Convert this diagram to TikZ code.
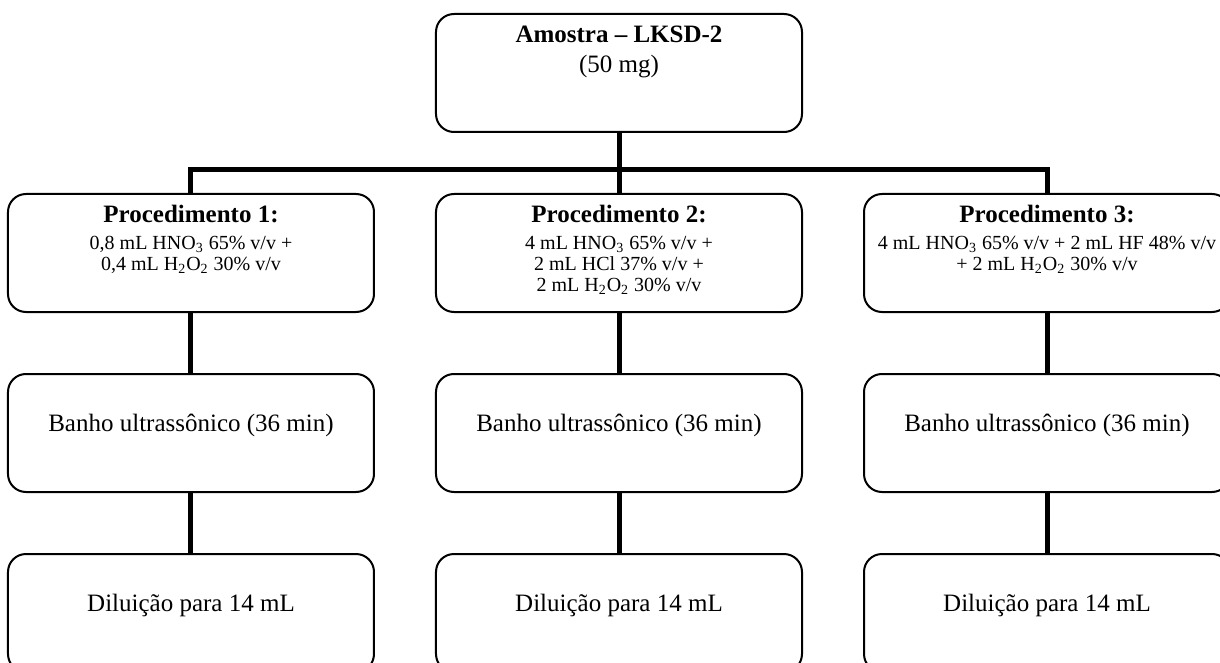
\documentclass[tikz,border=0pt]{standalone}
\usepackage{fontspec}
\setmainfont{Liberation Serif}
\usepackage{tikz}
\usetikzlibrary{positioning}

% texto das caixas: alinhado em cima, centrado
\newcommand{\caixa}[1]{\parbox[t]{175pt}{\centering #1}}
\newcommand{\reag}{\fontsize{10}{10.5}\selectfont}

\begin{document}
\begin{tikzpicture}[node distance=30pt and 30pt,
    etapa/.style={rectangle, draw, line width=1pt, rounded corners=9pt, inner sep=4pt,
        minimum width=183pt, minimum height=59pt, text height=10.5pt, text depth=40.5pt,
        font=\fontsize{12.5}{15}\selectfont},
    ligacao/.style={line width=2.5pt}]

    \useasboundingbox (-309.5pt,-295pt) rectangle (300.5pt,36.5pt);

    % Nodes
    \node [etapa] (amostra) {\caixa{\textbf{Amostra – LKSD-2}\\ (50 mg)}};
    \node [etapa, below=of amostra] (p2) {\caixa{\textbf{Procedimento 2:}\\[2.8pt]
        {\reag 4 mL HNO\textsubscript{3} 65\% v/v +\\ 2 mL HCl 37\% v/v +\\ 2 mL H\textsubscript{2}O\textsubscript{2} 30\% v/v\par}}};
    \node [etapa, left=of p2] (p1) {\caixa{\textbf{Procedimento 1:}\\[2.8pt]
        {\reag 0,8 mL HNO\textsubscript{3} 65\% v/v +\\ 0,4 mL H\textsubscript{2}O\textsubscript{2} 30\% v/v\par}}};
    \node [etapa, right=of p2] (p3) {\caixa{\textbf{Procedimento 3:}\\[2.8pt]
        {\reag 4 mL HNO\textsubscript{3} 65\% v/v + 2 mL HF 48\% v/v\\ + 2 mL H\textsubscript{2}O\textsubscript{2} 30\% v/v\par}}};
    \node [etapa, below=of p1] (b1) {\caixa{\mbox{}\\[-1pt] Banho ultrassônico (36 min)}};
    \node [etapa, below=of p2] (b2) {\caixa{\mbox{}\\[-1pt] Banho ultrassônico (36 min)}};
    \node [etapa, below=of p3] (b3) {\caixa{\mbox{}\\[-1pt] Banho ultrassônico (36 min)}};
    \node [etapa, below=of b1] (d1) {\caixa{\mbox{}\\[-1pt] Diluição para 14 mL}};
    \node [etapa, below=of b2] (d2) {\caixa{\mbox{}\\[-1pt] Diluição para 14 mL}};
    \node [etapa, below=of b3] (d3) {\caixa{\mbox{}\\[-1pt] Diluição para 14 mL}};
    \coordinate [below=18.5pt of amostra.south] (barra);

    % Arrows
    \draw [ligacao] (amostra) -- (barra);
    \draw [ligacao] (p1.north) |- (barra) -| (p3.north);
    \draw [ligacao] (barra) -- (p2);
    \draw [ligacao] (p1) -- (b1);
    \draw [ligacao] (p2) -- (b2);
    \draw [ligacao] (p3) -- (b3);
    \draw [ligacao] (b1) -- (d1);
    \draw [ligacao] (b2) -- (d2);
    \draw [ligacao] (b3) -- (d3);

\end{tikzpicture}
\end{document}
